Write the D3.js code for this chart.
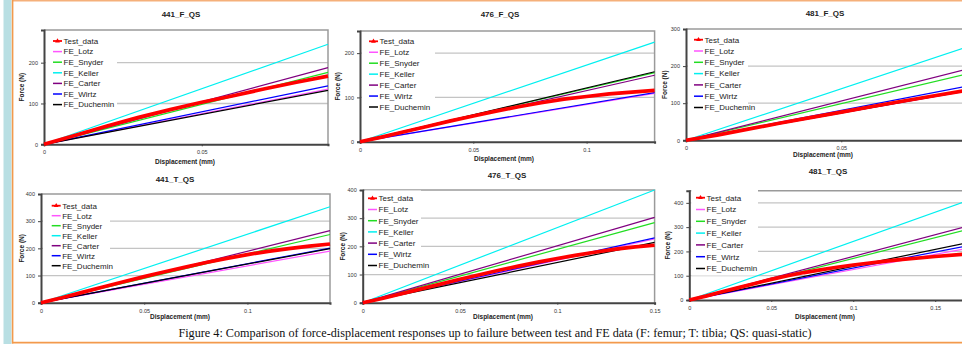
<!DOCTYPE html>
<html>
<head>
<meta charset="utf-8">
<script src="https://cdn.jsdelivr.net/npm/d3@7"></script>
<style>
  body { margin: 0; background: #fff; }
  svg { display: block; font-family: "Liberation Sans", Arial, sans-serif; }
</style>
</head>
<body>
<script>
// series names and colours, same order in every panel
const seriesNames = ["Test_data", "FE_Lotz", "FE_Snyder", "FE_Keller", "FE_Carter", "FE_Wirtz", "FE_Duchemin"];
const seriesColors = ["#ff0000", "#ff55ff", "#22dd22", "#00f0f0", "#800080", "#0000ff", "#000000"];

const titles = ["441_F_QS", "476_F_QS", "481_F_QS", "441_T_QS", "476_T_QS", "481_T_QS"];

// test data, displacement (mm) / force (N)
const disp441F = [0, 0.01, 0.02, 0.03, 0.04, 0.05, 0.06, 0.07, 0.08, 0.09];
const force441F = [0, 22, 45, 66, 85, 103, 119, 136, 152, 167];
const disp476F = [0, 0.01, 0.02, 0.03, 0.04, 0.05, 0.06, 0.07, 0.08, 0.09, 0.1, 0.11, 0.12, 0.13];
const force476F = [0, 11, 23, 35, 47, 58, 69, 79, 88, 96, 102, 108, 112, 116];
const disp481F = [0, 0.01, 0.02, 0.03, 0.04, 0.05, 0.06, 0.07, 0.08, 0.09];
const force481F = [0, 14, 30, 46, 61, 76, 91, 106, 120, 134];
const disp441T = [0, 0.01, 0.02, 0.03, 0.04, 0.05, 0.06, 0.07, 0.08, 0.09, 0.1, 0.11, 0.12, 0.13, 0.14];
const force441T = [0, 18, 38, 58, 77, 96, 114, 131, 148, 163, 177, 189, 199, 208, 216];
const disp476T = [0, 0.01, 0.02, 0.03, 0.04, 0.05, 0.06, 0.07, 0.08, 0.09, 0.1, 0.11, 0.12, 0.13, 0.14, 0.15];
const force476T = [0, 15, 32, 49, 66, 83, 99, 115, 130, 144, 157, 169, 180, 190, 198, 204];
const disp481T = [0, 0.01, 0.02, 0.03, 0.04, 0.05, 0.06, 0.07, 0.08, 0.09, 0.1, 0.11, 0.12, 0.13, 0.14, 0.15, 0.17];
const force481T = [0, 16, 34, 51, 68, 85, 100, 113, 124, 135, 144, 152, 160, 167, 173, 179, 190];

// FE models: force at final displacement (Lotz, Snyder, Keller, Carter, Wirtz, Duchemin)
const feEndDisp = [0.09, 0.13, 0.09, 0.14, 0.15, 0.17];
const fe441F = [135, 176, 245, 188, 143, 132];
const fe476F = [109, 156, 225, 150, 111, 158];
const fe481F = [132, 178, 250, 191, 145, 133];
const fe441T = [190, 251, 353, 265, 201, 199];
const fe476T = [226, 284, 400, 303, 230, 214];
const fe481T = [213, 291, 410, 305, 224, 236];

// axes
const xMax = [0.09, 0.13, 0.09, 0.14, 0.15, 0.17];
const yMax = [280, 250, 300, 400, 400, 450];
const xTickVals = [[0, 0.05], [0, 0.05, 0.1], [0, 0.05], [0, 0.05, 0.1], [0, 0.05, 0.1, 0.15], [0, 0.05, 0.1, 0.15]];
const yTickVals = [[0, 100, 200], [0, 100, 200], [0, 100, 200, 300], [0, 100, 200, 300, 400], [0, 100, 200, 300, 400], [0, 100, 200, 300, 400]];

const caption = "Figure 4: Comparison of force-displacement responses up to failure between test and FE data (F: femur; T: tibia; QS: quasi-static)";

const testDisp = [disp441F, disp476F, disp481F, disp441T, disp476T, disp481T];
const testForce = [force441F, force476F, force481F, force441T, force476T, force481T];
const feForce = [fe441F, fe476F, fe481F, fe441T, fe476T, fe481T];

// layout of each panel (plot box, title, axis titles, legend)
const boxes = [
  {l: 44, t: 30, r: 328, b: 144.3, tx: 181, ty: 14, fx: 21.7, dy: 161, dx: 185, lgx: 53, lgy: 41, lgs: 10.6, lgr: 117},
  {l: 360, t: 31, r: 654.6, b: 141.7, tx: 500, ty: 14, fx: 338, dy: 158.7, dx: 504, lgx: 369, lgy: 41.3, lgs: 10.95, lgr: 435},
  {l: 686, t: 29, r: 965.5, b: 140.3, tx: 825, ty: 13, fx: 665, dy: 154.3, dx: 823, lgx: 694, lgy: 39.7, lgs: 11.3, lgr: 748},
  {l: 41, t: 194, r: 330, b: 302.7, tx: 175, ty: 179, fx: 21.7, dy: 316.7, dx: 180, lgx: 51.7, lgy: 205.7, lgs: 10, lgr: 110},
  {l: 362.7, t: 190, r: 654.6, b: 302.7, tx: 507, ty: 175, fx: 343, dy: 316.7, dx: 503, lgx: 368, lgy: 198.3, lgs: 11.2, lgr: 421},
  {l: 689.3, t: 190.7, r: 968, b: 300, tx: 828, ty: 171, fx: 668, dy: 316.7, dx: 825, lgx: 696, lgy: 197.7, lgs: 11.8, lgr: 758}
];

const svg = d3.select("body").append("svg")
    .attr("width", 962)
    .attr("height", 344);

// page frame
svg.append("rect").attr("x", 3.5).attr("y", 0).attr("width", 8).attr("height", 344).attr("fill", "#b9dfe3");
svg.append("line").attr("x1", 12.5).attr("x2", 962).attr("y1", 0.8).attr("y2", 0.8)
    .attr("stroke", "#f5b07a").attr("stroke-width", 1.6);
svg.append("line").attr("x1", 12.6).attr("x2", 12.6).attr("y1", 0).attr("y2", 343.5)
    .attr("stroke", "#f39a4c").attr("stroke-width", 1.6);
svg.append("line").attr("x1", 12).attr("x2", 962).attr("y1", 342.6).attr("y2", 342.6)
    .attr("stroke", "#f39a4c").attr("stroke-width", 1.6);

const fmt = d => d === 0 ? "0" : String(d);

boxes.forEach(function(bx, i) {
  let x = d3.scaleLinear().domain([0, xMax[i]]).range([bx.l, bx.r]),
      y = d3.scaleLinear().domain([0, yMax[i]]).range([bx.b, bx.t]);
  let g = svg.append("g");

  g.append("text")
      .attr("x", bx.tx)
      .attr("y", bx.ty + 3)
      .attr("text-anchor", "middle")
      .attr("font-size", 8).attr("font-weight", "bold").attr("fill", "#222")
      .text(titles[i]);

  // gridlines
  g.selectAll(".grid").data(yTickVals[i].filter(v => v > 0 && v < yMax[i]))
    .enter().append("line")
      .attr("x1", bx.l).attr("x2", bx.r)
      .attr("y1", d => y(d)).attr("y2", d => y(d))
      .attr("stroke", "#c4c4c4").attr("stroke-width", 1.3);

  // frame top/right
  g.append("path")
      .attr("d", "M" + bx.l + "," + bx.t + "H" + bx.r + "V" + bx.b)
      .attr("fill", "none").attr("stroke", "#9a9a9a").attr("stroke-width", 1.5);

  // axes
  let ya = g.append("g").attr("transform", "translate(" + bx.l + ",0)")
      .call(d3.axisLeft(y).tickValues(yTickVals[i]).tickFormat(fmt).tickSize(3).tickPadding(3));
  let xa = g.append("g").attr("transform", "translate(0," + bx.b + ")")
      .call(d3.axisBottom(x).tickValues(xTickVals[i]).tickFormat(fmt).tickSize(2).tickPadding(4));
  [ya, xa].forEach(function(a) {
    a.select(".domain").attr("stroke", "#444").attr("stroke-width", 2);
    a.selectAll(".tick line").attr("stroke", "#444");
    a.selectAll(".tick text").attr("font-size", 5.5).attr("fill", "#333")
        .attr("font-family", "Liberation Sans, Arial, sans-serif");
  });

  g.append("text")
      .attr("transform", "translate(" + bx.fx + "," + ((bx.t + bx.b) / 2) + ") rotate(-90)")
      .attr("dy", "0.35em")
      .attr("text-anchor", "middle")
      .attr("font-size", 6.5).attr("font-weight", "bold").attr("fill", "#222")
      .text("Force (N)");
  g.append("text")
      .attr("x", bx.dx).attr("y", bx.dy + 2.5)
      .attr("text-anchor", "middle")
      .attr("font-size", 6.5).attr("font-weight", "bold").attr("fill", "#222")
      .text("Displacement (mm)");

  // legend
  let n = seriesNames.length;
  g.append("rect")
      .attr("x", bx.l + 2).attr("y", bx.lgy - bx.lgs * 0.7)
      .attr("width", bx.lgr - bx.l - 2).attr("height", bx.lgs * (n + 0.3))
      .attr("fill", "#fff");
  let lg = g.selectAll(".lg").data(seriesNames).enter().append("g")
      .attr("transform", (d, k) => "translate(" + bx.lgx + "," + (bx.lgy + k * bx.lgs) + ")");
  lg.append("line")
      .attr("x1", 0).attr("x2", 9).attr("y1", 0).attr("y2", 0)
      .attr("stroke", (d, k) => seriesColors[k])
      .attr("stroke-width", (d, k) => k == 0 ? 1.8 : 1.5);
  lg.filter((d, k) => k == 0).append("path")
      .attr("d", d3.symbol().type(d3.symbolTriangle).size(10))
      .attr("transform", "translate(4.5,0)")
      .attr("fill", "#ff0000");
  lg.append("text")
      .attr("x", 10.5).attr("y", 0).attr("dy", "0.35em")
      .attr("font-size", 8).attr("fill", "#222")
      .text(d => d);

  // FE lines
  let line = d3.line().x(d => x(d[0])).y(d => y(d[1]));
  g.selectAll(".fe").data(feForce[i])
    .enter().append("path")
      .attr("d", d => line([[0, 0], [feEndDisp[i], d]]))
      .attr("fill", "none")
      .attr("stroke", (d, k) => seriesColors[k + 1])
      .attr("stroke-width", 1.2);

  // test data
  g.append("path")
      .attr("d", line(testDisp[i].map((d, k) => [d, testForce[i][k]])))
      .attr("fill", "none")
      .attr("stroke", "#ff0000")
      .attr("stroke-width", 3.7)
      .attr("stroke-linejoin", "round");
});

svg.append("text")
    .attr("x", 495).attr("y", 337)
    .attr("text-anchor", "middle")
    .attr("font-family", "Liberation Serif, Times New Roman, serif")
    .attr("font-size", 12.2).attr("fill", "#111")
    .text(caption);
</script>
</body>
</html>
